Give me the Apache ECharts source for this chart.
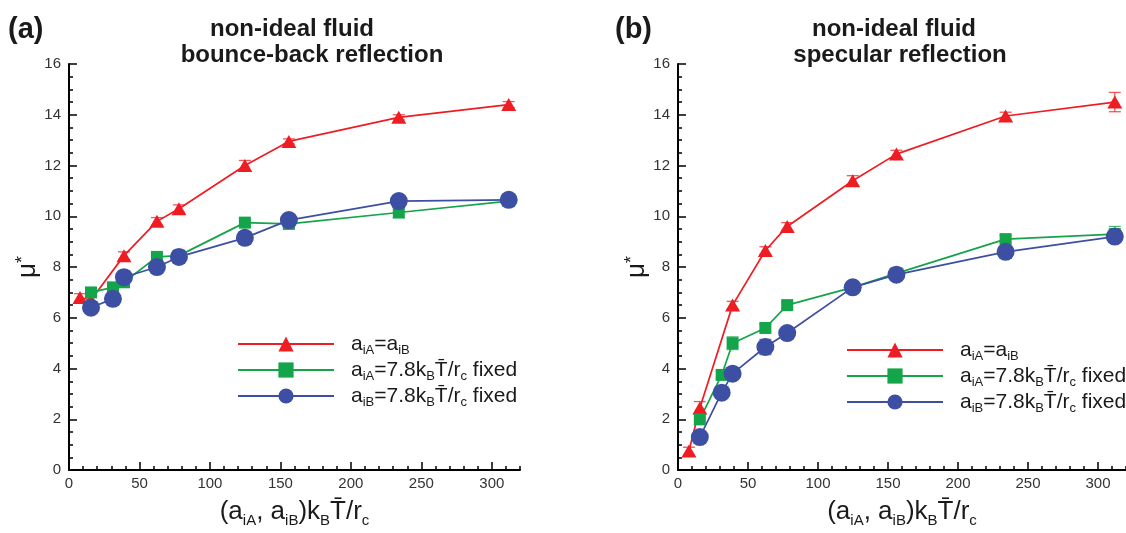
<!DOCTYPE html>
<html><head><meta charset="utf-8">
<script src="https://cdn.jsdelivr.net/npm/echarts@6/dist/echarts.min.js"></script>
<style>html,body{margin:0;padding:0;background:#fff}#c{width:1126px;height:533px}</style>
</head><body><div id="c"></div>
<script>
// x positions (a_iA, a_iB) k_B T / r_c
const xVals = [7.8, 15.6, 31.2, 39, 62.4, 78, 124.8, 156, 234, 312];

// panel (a): bounce-back reflection
const redA   = [6.8, 6.7, null, 8.45, 9.8, 10.3, 12.0, 12.95, 13.9, 14.4];
const greenA = [null, 7.0, 7.2, 7.4, 8.4, 8.45, 9.75, 9.7, 10.15, 10.6];
const blueA  = [null, 6.4, 6.75, 7.6, 8.0, 8.4, 9.15, 9.85, 10.6, 10.65];
const errRedA   = [0.15, 0.15, null, 0.15, 0.15, 0.15, 0.2, 0.1, 0.1, 0.12];
const errGreenA = [null, 0.12, 0.12, 0.12, 0.12, 0.1, 0.15, 0.15, 0.2, 0.15];
const errBlueA  = [null, 0.1, 0.1, 0.25, 0.1, 0.1, 0.1, 0.1, 0.1, 0.1];

// panel (b): specular reflection
const redB   = [0.75, 2.45, null, 6.5, 8.65, 9.6, 11.4, 12.45, 13.95, 14.5];
const greenB = [null, 2.0, 3.75, 5.0, 5.6, 6.5, 7.2, 7.75, 9.1, 9.3];
const blueB  = [null, 1.3, 3.05, 3.8, 4.85, 5.4, 7.2, 7.7, 8.6, 9.2];
const errRedB   = [0.15, 0.25, null, 0.15, 0.15, 0.15, 0.2, 0.15, 0.15, 0.38];
const errGreenB = [null, 0.2, 0.15, 0.25, 0.15, 0.12, 0.1, 0.1, 0.15, 0.3];
const errBlueB  = [null, 0.1, 0.1, 0.1, 0.3, 0.1, 0.1, 0.1, 0.1, 0.1];

const titlesA = ['non-ideal fluid', 'bounce-back reflection'];
const titlesB = ['non-ideal fluid', 'specular reflection'];
const panelLabels = ['(a)', '(b)'];
const legendLabels = {
  A1: 'a{s|iA}=a{s|iB}', A2: 'a{s|iA}=7.8k{s|B}T\u0304/r{s|c} fixed', A3: 'a{s|iB}=7.8k{s|B}T\u0304/r{s|c} fixed',
  B1: 'a{s|iA}=a{s|iB}', B2: 'a{s|iA}=7.8k{s|B}T\u0304/r{s|c} fixed', B3: 'a{s|iB}=7.8k{s|B}T\u0304/r{s|c} fixed'
};
const xName = '(a{s|iA}, a{s|iB})k{s|B}T\u0304/r{s|c}';
const yName = '{mu|\u03bc}{st|*}';

const RED = '#ee1d23', GREEN = '#14a44a', BLUE = '#3d4fa3';
const FONT = 'Liberation Sans';

function pts(vals) { return xVals.map((x, i) => [x, vals[i]]).filter(d => d[1] != null); }
function errPts(vals, errs) { return xVals.map((x, i) => [x, vals[i], errs[i]]).filter(d => d[1] != null); }

function lineSeries(name, vals, color, symbol, size, xi, yi) {
  return { type: 'line', name, xAxisIndex: xi, yAxisIndex: yi, data: pts(vals),
    symbol, symbolSize: size, itemStyle: { color, opacity: 1 }, lineStyle: { color, width: 1.7 },
    z: 3, animation: false, emphasis: { disabled: true } };
}
function errSeries(name, vals, errs, color, xi, yi) {
  return { type: 'custom', name, xAxisIndex: xi, yAxisIndex: yi, data: errPts(vals, errs), z: 2, animation: false,
    renderItem: function (params, api) {
      const x = api.value(0), y = api.value(1), e = api.value(2);
      const t = api.coord([x, y + e]), b = api.coord([x, y - e]);
      const hw = 6;
      const st = { stroke: color, lineWidth: 1.3, opacity: 0.75 };
      return { type: 'group', children: [
        { type: 'line', shape: { x1: t[0], y1: t[1], x2: b[0], y2: b[1] }, style: st },
        { type: 'line', shape: { x1: t[0] - hw, y1: t[1], x2: t[0] + hw, y2: t[1] }, style: st },
        { type: 'line', shape: { x1: b[0] - hw, y1: b[1], x2: b[0] + hw, y2: b[1] }, style: st }
      ] };
    } };
}

const tickStyle = { color: '#000', width: 1.5 };
const subRich = { s: { fontSize: 13, verticalAlign: 'bottom', lineHeight: 8, fontFamily: FONT, color: '#1a1a1a' } };

function xMajor(g) {
  return { gridIndex: g, type: 'value', min: 0, max: 320, interval: 50,
    axisLine: { show: true, lineStyle: { color: '#000', width: 2 } },
    axisTick: { show: true, inside: true, length: 8, lineStyle: tickStyle },
    axisLabel: { showMaxLabel: false, margin: 6, fontSize: 15, color: '#333', fontFamily: FONT },
    splitLine: { show: false },
    name: xName, nameLocation: 'middle', nameGap: 16,
    nameTextStyle: { fontSize: 26, lineHeight: 32, color: '#1a1a1a', fontFamily: FONT,
      rich: { s: { fontSize: 15, verticalAlign: 'bottom', lineHeight: 9, fontFamily: FONT, color: '#1a1a1a' } } } };
}
function xMinor(g) {
  return { gridIndex: g, type: 'value', min: 0, max: 320, interval: 10, position: 'bottom',
    axisLine: { show: false }, axisTick: { show: true, inside: true, length: 4, lineStyle: tickStyle },
    axisLabel: { show: false }, splitLine: { show: false } };
}
function yAx(g) {
  return { gridIndex: g, type: 'value', min: 0, max: 16, interval: 2,
    axisLine: { show: true, lineStyle: { color: '#000', width: 2 } },
    axisTick: { show: true, inside: true, length: 8, lineStyle: tickStyle },
    minorTick: { show: true, splitNumber: 4, length: 4, lineStyle: tickStyle },
    axisLabel: { margin: 8, fontSize: 15, color: '#333', fontFamily: FONT },
    splitLine: { show: false }, minorSplitLine: { show: false },
    name: yName, nameLocation: 'middle', nameRotate: 90, nameGap: 26,
    nameTextStyle: { color: '#1a1a1a', fontFamily: FONT,
      rich: { mu: { fontSize: 26, fontFamily: FONT, color: '#1a1a1a' },
              st: { fontSize: 18, verticalAlign: 'top', fontFamily: FONT, color: '#1a1a1a' } } } };
}
function legend(left, top, names) {
  return { orient: 'vertical', left, top, padding: 0, itemWidth: 96, itemHeight: 19, itemGap: 0,
    data: names, formatter: n => legendLabels[n], selectedMode: false,
    textStyle: { fontSize: 21, lineHeight: 26, color: '#1a1a1a', fontFamily: FONT, padding: [0, 0, 0, 12], rich: subRich } };
}
function title(text, left, top, size, align) {
  return { text, left, top, padding: 0, textAlign: align,
    textStyle: { fontSize: size, fontWeight: 'bold', color: '#1a1a1a', fontFamily: FONT } };
}

const option = {
  backgroundColor: '#fff',
  animation: false,
  title: [
    title(panelLabels[0], 8, 15, 29, 'left'),
    title(panelLabels[1], 615, 15, 29, 'left'),
    title(titlesA[0], 292, 17, 24, 'center'),
    title(titlesA[1], 312, 43, 24, 'center'),
    title(titlesB[0], 894, 17, 24, 'center'),
    title(titlesB[1], 900, 43, 24, 'center')
  ],
  grid: [
    { left: 69, top: 64, width: 451, height: 410.5 },
    { left: 678, top: 64, width: 450, height: 410.5 }
  ],
  xAxis: [xMajor(0), xMinor(0), xMajor(1), xMinor(1)],
  yAxis: [yAx(0), yAx(1)],
  legend: [legend(237, 331, ['A1', 'A2', 'A3']), legend(846, 337, ['B1', 'B2', 'B3'])],
  series: [
    errSeries('eA1', redA, errRedA, RED, 0, 0),
    errSeries('eA2', greenA, errGreenA, GREEN, 0, 0),
    errSeries('eA3', blueA, errBlueA, BLUE, 0, 0),
    lineSeries('A1', redA, RED, 'triangle', [15, 13], 0, 0),
    lineSeries('A2', greenA, GREEN, 'rect', 12, 0, 0),
    lineSeries('A3', blueA, BLUE, 'circle', 18, 0, 0),
    errSeries('eB1', redB, errRedB, RED, 2, 1),
    errSeries('eB2', greenB, errGreenB, GREEN, 2, 1),
    errSeries('eB3', blueB, errBlueB, BLUE, 2, 1),
    lineSeries('B1', redB, RED, 'triangle', [15, 13], 2, 1),
    lineSeries('B2', greenB, GREEN, 'rect', 12, 2, 1),
    lineSeries('B3', blueB, BLUE, 'circle', 18, 2, 1)
  ]
};
const chart = echarts.init(document.getElementById('c'), null, { renderer: 'canvas' });
chart.setOption(option);
</script></body></html>
